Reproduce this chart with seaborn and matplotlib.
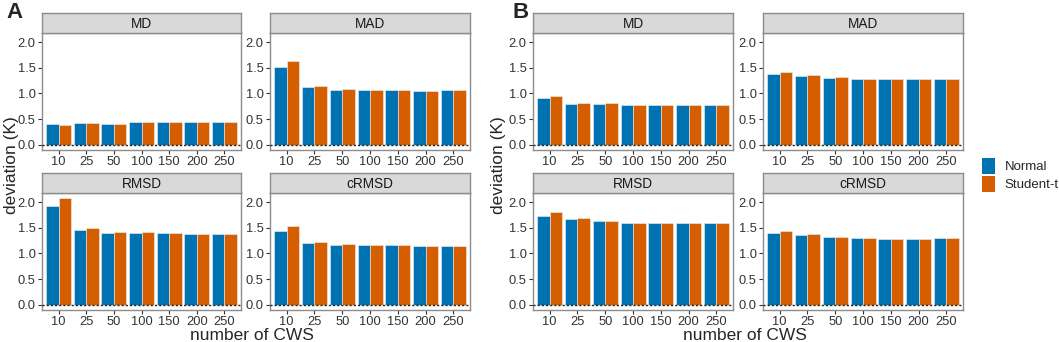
import numpy as np
import pandas as pd
import matplotlib; matplotlib.use("Agg")
import matplotlib.pyplot as plt
from matplotlib.patches import Patch
import seaborn as sns

# ─── Data ───────────────────────────────────────────────────
N_CWS   = ["10", "25", "50", "100", "150", "200", "250"]
METRICS = ["MD", "MAD", "RMSD", "cRMSD"]
MODELS  = ["Normal", "Student-t"]

# panel A
A_MD_NORMAL    = [0.40, 0.42, 0.41, 0.44, 0.45, 0.44, 0.45]
A_MD_STUDENT   = [0.39, 0.43, 0.41, 0.44, 0.45, 0.44, 0.45]
A_MAD_NORMAL   = [1.52, 1.12, 1.07, 1.07, 1.07, 1.05, 1.06]
A_MAD_STUDENT  = [1.64, 1.14, 1.08, 1.07, 1.07, 1.05, 1.06]
A_RMSD_NORMAL  = [1.93, 1.46, 1.40, 1.40, 1.40, 1.38, 1.38]
A_RMSD_STUDENT = [2.08, 1.49, 1.42, 1.41, 1.40, 1.38, 1.38]
A_CRMSD_NORMAL  = [1.44, 1.20, 1.17, 1.16, 1.16, 1.14, 1.14]
A_CRMSD_STUDENT = [1.53, 1.23, 1.18, 1.16, 1.16, 1.14, 1.14]

# panel B
B_MD_NORMAL    = [0.92, 0.80, 0.80, 0.77, 0.78, 0.77, 0.77]
B_MD_STUDENT   = [0.95, 0.82, 0.81, 0.77, 0.78, 0.77, 0.77]
B_MAD_NORMAL   = [1.38, 1.34, 1.31, 1.29, 1.28, 1.28, 1.28]
B_MAD_STUDENT  = [1.41, 1.36, 1.32, 1.29, 1.28, 1.28, 1.28]
B_RMSD_NORMAL  = [1.74, 1.67, 1.63, 1.60, 1.59, 1.59, 1.60]
B_RMSD_STUDENT = [1.80, 1.70, 1.64, 1.60, 1.59, 1.59, 1.60]
B_CRMSD_NORMAL  = [1.40, 1.36, 1.32, 1.30, 1.28, 1.29, 1.30]
B_CRMSD_STUDENT = [1.43, 1.38, 1.33, 1.30, 1.28, 1.29, 1.30]

COLORS = {"Normal": "#0072B2", "Student-t": "#D55E00"}

def long_df(series):
    rows = []
    for metric, (norm, stud) in series.items():
        for model, vals in zip(MODELS, (norm, stud)):
            for n, v in zip(N_CWS, vals):
                rows.append({"metric": metric, "model": model, "n": n, "dev": v})
    return pd.DataFrame(rows)

df_a = long_df({"MD": (A_MD_NORMAL, A_MD_STUDENT), "MAD": (A_MAD_NORMAL, A_MAD_STUDENT),
                "RMSD": (A_RMSD_NORMAL, A_RMSD_STUDENT), "cRMSD": (A_CRMSD_NORMAL, A_CRMSD_STUDENT)})
df_b = long_df({"MD": (B_MD_NORMAL, B_MD_STUDENT), "MAD": (B_MAD_NORMAL, B_MAD_STUDENT),
                "RMSD": (B_RMSD_NORMAL, B_RMSD_STUDENT), "cRMSD": (B_CRMSD_NORMAL, B_CRMSD_STUDENT)})

# ─── Figure ─────────────────────────────────────────────────
sns.set_style("white")
plt.rcParams["font.family"] = ["Liberation Sans", "DejaVu Sans"]
W, H = 1059, 342
fig = plt.figure(figsize=(W / 100, H / 100), dpi=100)

def px(x0, y0, x1, y1):
    return [x0 / W, 1 - y1 / H, (x1 - x0) / W, (y1 - y0) / H]

GREY = "#8C8C8C"

def facet(df, metric, x0, x1, y_strip, y_top, y_bot):
    ax = fig.add_axes(px(x0, y_top, x1, y_bot))
    sub = df[df["metric"] == metric]
    sns.barplot(data=sub, x="n", y="dev", hue="model", order=N_CWS, hue_order=MODELS,
                palette=COLORS, width=0.9, saturation=1, edgecolor="#EAF2F8",
                linewidth=0.4, legend=False, ax=ax)
    ax.axhline(0, color="#222222", ls=(0, (1.5, 1.5)), lw=1.0, zorder=5)
    ax.set_xlim(-0.6, 6.6)
    ax.set_ylim(-0.104, 2.18)
    ax.set_yticks([0.0, 0.5, 1.0, 1.5, 2.0])
    ax.set_yticklabels(["0.0", "0.5", "1.0", "1.5", "2.0"])
    ax.set_xlabel(""); ax.set_ylabel("")
    ax.tick_params(axis="both", length=3, width=0.8, color="#333333", labelsize=9.3,
                   labelcolor="#333333", pad=1.5, left=True, bottom=True)
    for s in ax.spines.values():
        s.set_edgecolor(GREY); s.set_linewidth(1.0)
    st = fig.add_axes(px(x0, y_strip, x1, y_top))
    st.set_facecolor("#D9D9D9")
    st.set_xticks([]); st.set_yticks([])
    for s in st.spines.values():
        s.set_edgecolor(GREY); s.set_linewidth(1.0)
    st.text(0.5, 0.47, metric, ha="center", va="center", fontsize=9.8, color="#1A1A1A",
            transform=st.transAxes)
    return ax

for df, xs in ((df_a, [(42, 241), (270, 470)]), (df_b, [(533, 733), (763, 963)])):
    facet(df, "MD",    xs[0][0], xs[0][1], 13, 33, 150)
    facet(df, "MAD",   xs[1][0], xs[1][1], 13, 33, 150)
    facet(df, "RMSD",  xs[0][0], xs[0][1], 173, 193, 310)
    facet(df, "cRMSD", xs[1][0], xs[1][1], 173, 193, 310)

# labels
fig.text(6 / W, 1 - 12 / H, "A", fontsize=16, fontweight="bold", va="center", ha="left")
fig.text(513 / W, 1 - 12 / H, "B", fontsize=16, fontweight="bold", va="center", ha="left")
for xl, xc in ((12, 252), (499, 745)):
    fig.text(xl / W, 1 - 165 / H, "deviation (K)", rotation=90, fontsize=12.5,
             va="center", ha="center")
    fig.text(xc / W, 1 - 335.5 / H, "number of CWS", fontsize=12.5, va="center", ha="center")

handles = [Patch(facecolor=COLORS[m], edgecolor="none", label=m) for m in MODELS]
fig.legend(handles=handles, loc="center left", bbox_to_anchor=(977 / W, 1 - 175 / H),
           frameon=False, fontsize=9.5, handlelength=1.0, handleheight=1.4,
           handletextpad=0.7, labelspacing=0.2, borderaxespad=0)

fig.savefig("out.png", dpi=100)
